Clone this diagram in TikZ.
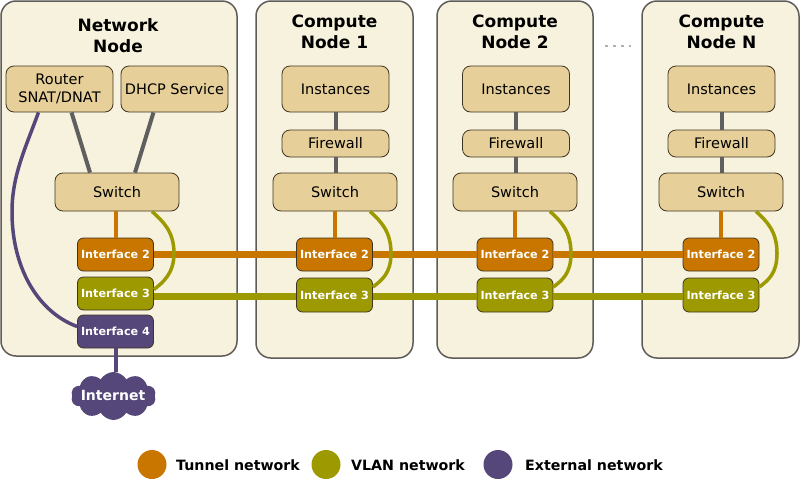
\documentclass[tikz,border=0pt]{standalone}
\usepackage{fontspec}
\setmainfont{DejaVu Sans}
\usetikzlibrary{shapes.symbols}
\definecolor{panelfill}{HTML}{F7F2DD}
\definecolor{panelline}{HTML}{5E5C58}
\definecolor{boxfill}{HTML}{E6CF98}
\definecolor{boxline}{HTML}{3F3522}
\definecolor{tunnelc}{HTML}{C87600}
\definecolor{vlanc}{HTML}{9C9A00}
\definecolor{extc}{HTML}{56477A}
\definecolor{grayc}{HTML}{5F5F5F}
\definecolor{dotc}{HTML}{B0B0B0}
\tikzset{
  x=1pt,y=-1pt,
  panel/.style={draw=panelline,fill=panelfill,line width=1.5pt,rounded corners=15pt},
  svc/.style={draw=boxline,fill=boxfill,line width=0.8pt,rounded corners=8pt,font=\fontsize{14.5}{18}\selectfont,align=center,inner sep=0pt},
  ifbase/.style={draw=boxline,line width=0.8pt,rounded corners=6pt,minimum width=76pt,minimum height=33pt,inner sep=0pt,text=white,font=\fontsize{11.2}{13}\selectfont\bfseries},
  iftun/.style={ifbase,fill=tunnelc},
  ifvlan/.style={ifbase,fill=vlanc},
  ifext/.style={ifbase,fill=extc},
  title/.style={font=\fontsize{17}{21}\selectfont\bfseries,align=center,inner sep=0pt},
  link/.style={draw=grayc,line width=4pt},
  tunlink/.style={draw=tunnelc,line width=4pt},
  tunbar/.style={draw=tunnelc,line width=6.5pt},
  vlanbar/.style={draw=vlanc,line width=6.5pt},
  vlancurve/.style={draw=vlanc,line width=3.5pt},
  extcurve/.style={draw=extc,line width=3.5pt},
  legdot/.style={circle,minimum size=29pt,inner sep=0pt},
  legtext/.style={font=\fontsize{14.2}{16}\selectfont\bfseries,anchor=west,inner sep=0pt},
}
\begin{document}
\begin{tikzpicture}
\useasboundingbox (0,0) rectangle (800,480);
% panels
\path[panel] (1,1) rectangle (237,356);
\path[panel] (256,1) rectangle (413,358);
\path[panel] (437,1) rectangle (593,358);
\path[panel] (642,1) rectangle (799,358);
% titles
\node[title] (tn) at (118,35.5) {Network\\Node};
\node[title] (t1) at (334.5,31.5) {Compute\\Node 1};
\node[title] (t2) at (515,31.5) {Compute\\Node 2};
\node[title] (t3) at (721.5,31.5) {Compute\\Node N};
% service boxes
\node[svc,minimum width=107pt,minimum height=46pt] (router) at (59.5,89) {\raisebox{-0.7pt}{Router}\\\raisebox{-0.7pt}{SNAT/DNAT}};
\node[svc,minimum width=107pt,minimum height=46pt] (dhcp) at (174.5,89) {\raisebox{-0.7pt}{DHCP Service}};
\node[svc,minimum width=124pt,minimum height=38pt] (ns) at (117,192) {\raisebox{-0.7pt}{Switch}};
\node[svc,minimum width=107pt,minimum height=46pt] (i1) at (335.5,89) {\raisebox{-0.7pt}{Instances}};
\node[svc,minimum width=107pt,minimum height=27pt] (f1) at (335.5,143.5) {\raisebox{-0.7pt}{Firewall}};
\node[svc,minimum width=124pt,minimum height=38pt] (s1) at (335,192) {\raisebox{-0.7pt}{Switch}};
\node[svc,minimum width=107pt,minimum height=46pt] (i2) at (516,89) {\raisebox{-0.7pt}{Instances}};
\node[svc,minimum width=107pt,minimum height=27pt] (f2) at (516,143.5) {\raisebox{-0.7pt}{Firewall}};
\node[svc,minimum width=124pt,minimum height=38pt] (s2) at (515,192) {\raisebox{-0.7pt}{Switch}};
\node[svc,minimum width=107pt,minimum height=46pt] (i3) at (721.5,89) {\raisebox{-0.7pt}{Instances}};
\node[svc,minimum width=107pt,minimum height=27pt] (f3) at (721.5,143.5) {\raisebox{-0.7pt}{Firewall}};
\node[svc,minimum width=124pt,minimum height=38pt] (s3) at (721,192) {\raisebox{-0.7pt}{Switch}};
% interfaces
\node[iftun] (n2) at (115.5,254.5) {Interface 2};
\node[ifvlan] (n3) at (115.5,293.5) {Interface 3};
\node[ifext] (n4) at (115.5,331.5) {Interface 4};
\node[iftun] (a2) at (334.5,254.5) {Interface 2};
\node[ifvlan,minimum height=34pt] (a3) at (334.5,295) {Interface 3};
\node[iftun] (b2) at (515,254.5) {Interface 2};
\node[ifvlan,minimum height=34pt] (b3) at (515,295) {Interface 3};
\node[iftun] (c2) at (721,254.5) {Interface 2};
\node[ifvlan,minimum height=34pt] (c3) at (721,295) {Interface 3};
% internet
\node[cloud,cloud puffs=10,cloud puff arc=120,aspect=1.9,fill=extc,inner sep=0pt,minimum width=85pt,minimum height=48pt] (net) at (113.5,396) {};
\node[text=white,inner sep=0pt,font=\fontsize{14}{16}\selectfont\bfseries] (netl) at (113,395.5) {Internet};
% connectors
\draw[link] ([xshift=12pt]router.south) -- ([xshift=-27pt]ns.north);
\draw[link] ([xshift=-21pt]dhcp.south) -- ([xshift=18pt]ns.north);
\foreach \i/\f/\s in {i1/f1/s1,i2/f2/s2,i3/f3/s3}{
  \draw[link] (\i) -- (\f);
  \draw[link] (\f) -- (\f |- \s.north);
}
% tunnel
\draw[tunlink] (ns.south -| n2.north) -- (n2.north);
\draw[tunlink] (s1.south -| a2.north) -- (a2.north);
\draw[tunlink] (s2.south -| b2.north) -- (b2.north);
\draw[tunlink] (s3.south -| c2.north) -- (c2.north);
\draw[tunbar] (n2.east) -- (a2.west);
\draw[tunbar] (a2.east) -- (b2.west);
\draw[tunbar] (b2.east) -- (c2.west);
% vlan
\coordinate (nv) at ([yshift=-3pt]n3.east);
\coordinate (av) at ([yshift=-1.5pt]a3.west);
\coordinate (av2) at ([yshift=-1.5pt]a3.east);
\coordinate (bv) at ([yshift=-1.5pt]b3.west);
\coordinate (bv2) at ([yshift=-1.5pt]b3.east);
\coordinate (cv) at ([yshift=-1.5pt]c3.west);
\draw[vlanbar] (nv) -- (av);
\draw[vlanbar] (av2) -- (bv);
\draw[vlanbar] (bv2) -- (cv);
\draw[vlancurve] ([xshift=35pt]ns.south) .. controls +(11,10) and +(0,-22) .. ++(22,42) .. controls +(0,20) and +(9,-7) .. ([yshift=4pt]n3.east);
\draw[vlancurve] ([xshift=35pt]s1.south) .. controls +(11,10) and +(0,-22) .. ++(21,42) .. controls +(0,20) and +(9,-7) .. ([yshift=8pt]a3.east);
\draw[vlancurve] ([xshift=35pt]s2.south) .. controls +(11,10) and +(0,-22) .. ++(21,42) .. controls +(0,20) and +(9,-7) .. ([yshift=8pt]b3.east);
\draw[vlancurve] ([xshift=35pt]s3.south) .. controls +(11,10) and +(0,-22) .. ++(21,42) .. controls +(0,20) and +(9,-7) .. ([yshift=8pt]c3.east);
% external
\draw[extcurve] ([xshift=-21pt]router.south) .. controls +(-14,38) and +(0,-36) .. (12,212) .. controls (12,268) and (38,312) .. ([yshift=5pt]n4.west);
\draw[link,draw=extc] (n4.south) -- (n4.south |- net.north);
% dots
\coordinate (d1) at (605,46);
\coordinate (d2) at (631,46);
\draw[dotc,line width=2.5pt,dash pattern=on 2.5pt off 5.6pt] (d1) -- (d2);
% legend
\node[legdot,fill=tunnelc] (l1) at (152,464.5) {};
\node[legtext] (l1t) at (176,465) {Tunnel network};
\node[legdot,fill=vlanc] (l2) at (326,464.5) {};
\node[legtext] (l2t) at (351,465) {VLAN network};
\node[legdot,fill=extc] (l3) at (498,464.5) {};
\node[legtext] (l3t) at (525,465) {External network};
\end{tikzpicture}
\end{document}
